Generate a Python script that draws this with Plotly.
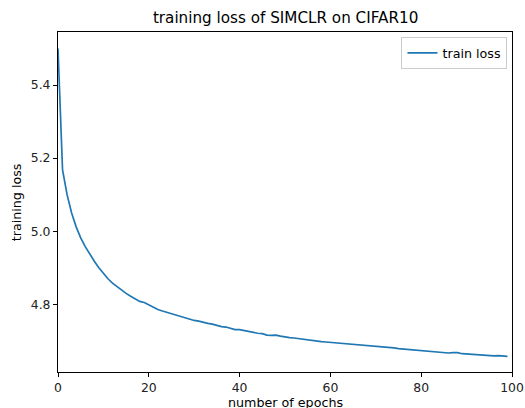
import plotly.graph_objects as go

epochs = list(range(100))
train_loss = [
    5.500, 5.168, 5.100, 5.050, 5.012, 4.982, 4.958, 4.937, 4.918, 4.900,
    4.884, 4.870, 4.858, 4.848, 4.839, 4.830, 4.822, 4.815, 4.808, 4.805,
    4.798, 4.792, 4.786, 4.782, 4.778, 4.774, 4.770, 4.766, 4.762, 4.759,
    4.756, 4.754, 4.750, 4.748, 4.746, 4.742, 4.739, 4.738, 4.734, 4.731,
    4.731, 4.728, 4.725, 4.723, 4.721, 4.720, 4.716, 4.715, 4.716, 4.713,
    4.710, 4.709, 4.708, 4.706, 4.705, 4.702, 4.700, 4.699, 4.698, 4.697,
    4.696, 4.695, 4.695, 4.693, 4.691, 4.691, 4.690, 4.689, 4.687, 4.686,
    4.685, 4.684, 4.684, 4.682, 4.681, 4.679, 4.678, 4.677, 4.677, 4.675,
    4.674, 4.672, 4.673, 4.671, 4.670, 4.670, 4.667, 4.668, 4.668, 4.665,
    4.664, 4.663, 4.662, 4.663, 4.662, 4.660, 4.659, 4.660, 4.658, 4.658,
]
x_ticks = [0, 20, 40, 60, 80, 100]
y_ticks = [4.8, 5.0, 5.2, 5.4]

fig = go.Figure()
fig.add_trace(go.Scatter(x=epochs, y=train_loss, mode="lines", name="train loss",
                         line=dict(color="#1f77b4", width=1.7)))

axis_common = dict(showgrid=False, zeroline=False, showline=True, linecolor="black",
                   linewidth=1, mirror=True, ticks="outside", ticklen=4, tickwidth=1,
                   tickcolor="black", tickfont=dict(size=12.4, color="#222"),
                   automargin=False)

fig.update_layout(
    width=525, height=408,
    margin=dict(l=58, r=13, t=32, b=36),
    paper_bgcolor="white", plot_bgcolor="white",
    font=dict(family="DejaVu Sans", color="black"),
    title=dict(text="training loss of SIMCLR on CIFAR10", x=0.544, xanchor="center",
               y=0.956, yanchor="middle", font=dict(size=15.2)),
    xaxis=dict(range=[0, 100], tickvals=x_ticks, **axis_common),
    yaxis=dict(range=[4.615, 5.545], tickvals=y_ticks, tickformat=".1f", **axis_common),
    legend=dict(x=0.99, y=0.985, xanchor="right", yanchor="top",
                bordercolor="#cccccc", borderwidth=1, bgcolor="white",
                font=dict(size=12.7), itemwidth=30),
    showlegend=True,
    annotations=[
        dict(text="number of epochs", xref="paper", yref="paper", x=0.5, y=-0.062,
             xanchor="center", yanchor="top", showarrow=False, font=dict(size=12.7)),
        dict(text="training loss", xref="paper", yref="paper", x=-0.092, y=0.5,
             xanchor="center", yanchor="middle", textangle=-90, showarrow=False,
             font=dict(size=12.7)),
    ],
)

fig.write_html("out.html", config={"displayModeBar": False},
               post_script="document.body.style.margin='0';document.body.style.overflow='hidden';")
